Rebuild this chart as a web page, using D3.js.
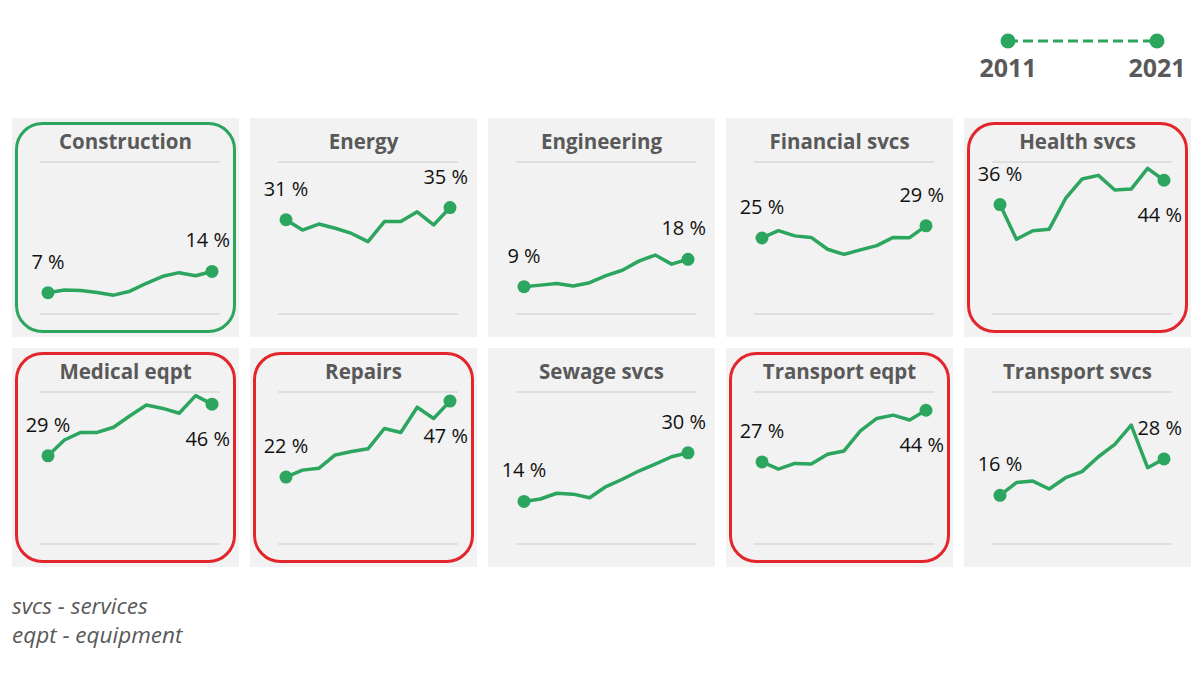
<!DOCTYPE html>
<html>
<head>
<meta charset="utf-8">
<script src="https://cdn.jsdelivr.net/npm/d3@7"></script>
<style>
  body { margin: 0; background: #fff; }
  svg { display: block; }
</style>
</head>
<body>
<svg id="chart" width="1200" height="700"></svg>
<script>
var years = [2011, 2012, 2013, 2014, 2015, 2016, 2017, 2018, 2019, 2020, 2021];

var categories = [
  "Construction", "Energy", "Engineering", "Financial svcs", "Health svcs",
  "Medical eqpt", "Repairs", "Sewage svcs", "Transport eqpt", "Transport svcs"
];

// share in %, 2011..2021
var construction  = [7, 7.9, 7.7, 7.1, 6.2, 7.5, 10.1, 12.4, 13.6, 12.6, 14];
var energy        = [31, 27.6, 29.6, 28.2, 26.5, 23.8, 30.4, 30.4, 33.6, 29.3, 35];
var engineering   = [9, 9.5, 10, 9.2, 10.3, 12.6, 14.4, 17.4, 19.4, 16.4, 18];
var financial     = [25, 27.4, 25.7, 25.2, 21.3, 19.6, 21.1, 22.5, 25.2, 25.1, 29];
var health        = [36, 24.6, 27.4, 27.9, 38, 44.4, 45.6, 40.8, 41.1, 47.9, 44];
var medical       = [29, 34.2, 36.7, 36.7, 38.4, 42.2, 45.7, 44.6, 43, 48.8, 46];
var repairs       = [22, 24.3, 24.9, 29.3, 30.4, 31.3, 38, 36.7, 45, 41.3, 47];
var sewage        = [14, 14.8, 16.7, 16.4, 15.2, 18.9, 21.3, 24, 26.3, 28.7, 30];
var transportEqpt = [27, 24.6, 26.5, 26.3, 29.5, 30.6, 37.2, 41.3, 42.4, 40.8, 44];
var transportSvcs = [16, 20.2, 20.7, 18.1, 21.8, 23.8, 28.7, 32.8, 39.1, 25.1, 28];

var series = [construction, energy, engineering, financial, health,
              medical, repairs, sewage, transportEqpt, transportSvcs];

var greenFrame = ["Construction"];
var redFrame = ["Health svcs", "Medical eqpt", "Repairs", "Transport eqpt"];

var notes = ["svcs - services", "eqpt - equipment"];

var green = "#2ca55e",
  red = "#e3262c",
  grey = "#595959",
  font = "'Open Sans', sans-serif";

var svg = d3.select("#chart");

var panelW = 227, panelH = 219,
  cols = 5;

// panel grid: 238px column step, 230px row step
var col = d3.scaleLinear().domain([0, 1]).range([12, 250]);
var row = d3.scaleLinear().domain([0, 1]).range([118, 348]);

var x = d3.scaleLinear().domain([years[0], years[years.length - 1]]).range([36, 200]);
var y = d3.scaleLinear().domain([0, 50]).range([196, 44]);

var line = d3.line()
  .x(function (d, i) { return x(years[i]); })
  .y(function (d) { return y(d); });

var panels = svg.selectAll("g.panel")
  .data(categories)
  .enter()
  .append("g")
  .attr("class", "panel")
  .attr("transform", function (d, i) {
    return "translate(" + col(i % cols) + "," + row(Math.floor(i / cols)) + ")";
  });

panels.append("rect")
  .attr("width", panelW)
  .attr("height", panelH)
  .attr("fill", "#f2f2f2");

// top / bottom guide lines
panels.selectAll("line.grid")
  .data(y.domain())
  .enter()
  .append("line")
  .attr("class", "grid")
  .attr("x1", 28)
  .attr("x2", 208)
  .attr("y1", function (d) { return y(d); })
  .attr("y2", function (d) { return y(d); })
  .attr("stroke", "#d9d9d9")
  .attr("stroke-width", 1.5);

panels.append("text")
  .attr("x", panelW / 2)
  .attr("y", 31)
  .attr("text-anchor", "middle")
  .attr("font-family", font)
  .attr("font-weight", 700)
  .attr("font-size", 20.5)
  .attr("fill", grey)
  .text(function (d) { return d; });

panels.append("path")
  .attr("d", function (d, i) { return line(series[i]); })
  .attr("fill", "none")
  .attr("stroke", green)
  .attr("stroke-width", 3.5)
  .attr("stroke-linejoin", "round");

panels.each(function (d, i) {
  var g = d3.select(this),
    vals = series[i],
    first = vals[0],
    last = vals[vals.length - 1];

  g.selectAll("circle")
    .data([[years[0], first], [years[years.length - 1], last]])
    .enter()
    .append("circle")
    .attr("cx", function (p) { return x(p[0]); })
    .attr("cy", function (p) { return y(p[1]); })
    .attr("r", 6.5)
    .attr("fill", green);

  g.append("text")
    .attr("x", x(years[0]))
    .attr("y", y(first) - 24)
    .attr("text-anchor", "middle")
    .attr("font-family", font)
    .attr("font-size", 20)
    .attr("fill", "#111")
    .text(Math.round(first) + " %");

  var below = last >= 40;
  g.append("text")
    .attr("x", x(years[years.length - 1]) + 18)
    .attr("y", below ? y(last) + 42 : y(last) - 24)
    .attr("text-anchor", "end")
    .attr("font-family", font)
    .attr("font-size", 20)
    .attr("fill", "#111")
    .text(Math.round(last) + " %");
});

// highlight frames
panels.filter(function (d) { return greenFrame.indexOf(d) >= 0 || redFrame.indexOf(d) >= 0; })
  .append("rect")
  .attr("x", 4.5)
  .attr("y", 5.5)
  .attr("width", panelW - 9)
  .attr("height", panelH - 11)
  .attr("rx", 26)
  .attr("fill", "none")
  .attr("stroke-width", 3)
  .attr("stroke", function (d) { return greenFrame.indexOf(d) >= 0 ? green : red; });

// legend
var lx = d3.scaleLinear().domain([years[0], years[years.length - 1]]).range([1008, 1157]);
var legend = svg.append("g");

legend.append("line")
  .attr("x1", lx(years[0]))
  .attr("x2", lx(years[years.length - 1]))
  .attr("y1", 41)
  .attr("y2", 41)
  .attr("stroke", green)
  .attr("stroke-width", 3)
  .attr("stroke-dasharray", "10,5");

legend.selectAll("circle")
  .data([years[0], years[years.length - 1]])
  .enter()
  .append("circle")
  .attr("cx", function (d) { return lx(d); })
  .attr("cy", 41)
  .attr("r", 7.5)
  .attr("fill", green);

legend.selectAll("text")
  .data([years[0], years[years.length - 1]])
  .enter()
  .append("text")
  .attr("x", function (d) { return lx(d); })
  .attr("y", 77)
  .attr("text-anchor", "middle")
  .attr("font-family", font)
  .attr("font-weight", 700)
  .attr("font-size", 25)
  .attr("fill", grey)
  .text(function (d) { return d; });

svg.selectAll("text.note")
  .data(notes)
  .enter()
  .append("text")
  .attr("class", "note")
  .attr("x", 12)
  .attr("y", function (d, i) { return 614 + i * 29; })
  .attr("font-family", font)
  .attr("font-style", "italic")
  .attr("font-size", 22.5)
  .attr("fill", grey)
  .text(function (d) { return d; });
</script>
</body>
</html>
